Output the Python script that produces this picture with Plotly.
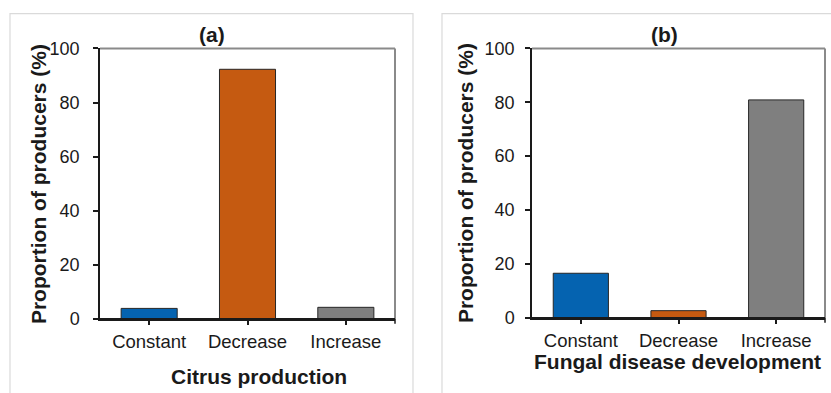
import plotly.graph_objects as go

categories = ["Constant", "Decrease", "Increase"]
citrus_values = [3.8, 92.3, 4.2]
fungal_values = [16.5, 2.6, 80.9]
bar_colors = ["#0563B0", "#C55A11", "#7F7F7F"]
y_ticks = [0, 20, 40, 60, 80, 100]
panel_titles = ["(a)", "(b)"]
x_titles = ["Citrus production", "Fungal disease development"]
y_title = "Proportion of producers (%)"

W, H = 831, 393
# observed vertical mapping of the renderer: image_y = 9.4 + 0.952 * figure_y
V_OFF, V_SCALE = 9.4, 0.952
def px(x): return x / W
def py(y): return 1 - ((y - V_OFF) / V_SCALE) / H

fig = go.Figure()
fig.add_trace(go.Bar(x=categories, y=citrus_values, marker=dict(color=bar_colors, line=dict(color="#262626", width=1)),
                     width=0.57, xaxis="x", yaxis="y", showlegend=False))
fig.add_trace(go.Bar(x=categories, y=fungal_values, marker=dict(color=bar_colors, line=dict(color="#262626", width=1)),
                     width=0.565, xaxis="x2", yaxis="y2", showlegend=False))

font_fam = "Liberation Sans, Arial, sans-serif"
txt = "#1a1a1a"

def xax(domain, anchor):
    return dict(domain=domain, anchor=anchor, range=[-0.5, 2.5], showline=True, linecolor="#1a1a1a", linewidth=1.5,
                ticks="outside", ticklen=5, tickcolor="#1a1a1a", tickwidth=1.5, showgrid=False, zeroline=False,
                tickfont=dict(family=font_fam, size=18.5, color=txt), fixedrange=True)

def yax(domain, anchor, standoff):
    return dict(domain=domain, anchor=anchor, range=[0, 100], tickvals=y_ticks, showline=True, linecolor="#1a1a1a",
                linewidth=1.5, ticks="outside", ticklen=5, tickcolor="#1a1a1a", tickwidth=1.5, showgrid=False,
                zeroline=False, tickfont=dict(family=font_fam, size=18, color=txt), ticklabelstandoff=standoff,
                fixedrange=True)

fig.update_layout(
    width=W, height=H, margin=dict(l=0, r=0, t=0, b=0), paper_bgcolor="white", plot_bgcolor="white",
    bargap=0.4,
    xaxis=xax([px(100), px(395)], "y"),
    yaxis=yax([py(319), py(48)], "x", 10),
    xaxis2=xax([px(532), px(825)], "y2"),
    yaxis2=yax([py(318), py(48)], "x2", 7),
)

shapes = []
shapes.append(dict(type="rect", xref="paper", yref="paper", x0=px(10), x1=px(413), y0=-0.1, y1=py(13),
                   line=dict(color="#dadada", width=1.2), layer="below"))
shapes.append(dict(type="rect", xref="paper", yref="paper", x0=px(442), x1=1.1, y0=-0.1, y1=py(13),
                   line=dict(color="#dadada", width=1.2), layer="below"))
for xr, yr, tl in (("x domain", "y domain", 5 / 271), ("x2 domain", "y2 domain", 5 / 270)):
    shapes.append(dict(type="line", xref=xr, yref=yr, x0=0, x1=1, y0=1, y1=1, line=dict(color="#8a8a8a", width=2)))
    shapes.append(dict(type="line", xref=xr, yref=yr, x0=1, x1=1, y0=0, y1=1, line=dict(color="#8a8a8a", width=2)))
    shapes.append(dict(type="line", xref=xr, yref=yr, x0=1, x1=1, y0=0, y1=-tl, line=dict(color="#1a1a1a", width=1.5)))
    shapes.append(dict(type="line", xref=xr, yref=yr, x0=0, x1=1, y0=0, y1=0, line=dict(color="#1a1a1a", width=1.5)))
fig.update_layout(shapes=shapes)

bold = dict(family=font_fam, size=21, color=txt)
ann = []
def add_ann(text, x, y, angle=0):
    ann.append(dict(text="<b>" + text + "</b>", x=px(x), y=py(y), xref="paper", yref="paper", showarrow=False,
                    font=bold, textangle=angle, xanchor="center", yanchor="middle"))
add_ann(panel_titles[0], 212, 34)
add_ann(panel_titles[1], 664, 34)
add_ann(x_titles[0], 259, 377)
add_ann(x_titles[1], 677, 362)
add_ann(y_title, 38, 184, -90)
add_ann(y_title, 465, 183, -90)
fig.update_layout(annotations=ann)

fig.write_html("out.html", config={"displayModeBar": False})
